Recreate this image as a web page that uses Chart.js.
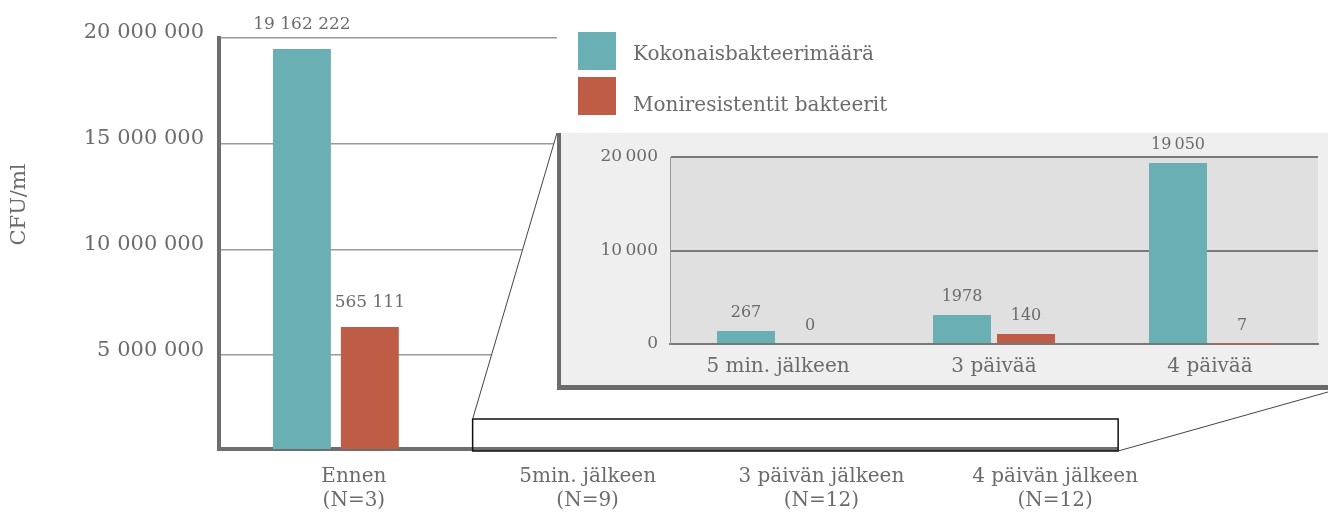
<!DOCTYPE html>
<html>
<head>
<meta charset="utf-8">
<script src="https://cdn.jsdelivr.net/npm/chart.js@4"></script>
<style>
  body { margin: 0; background: #fff; }
  #wrap { position: relative; width: 1328px; height: 517px; overflow: hidden; }
  #main { position: absolute; left: 0; top: 0; }
  #zoomBox {
    position: absolute; left: 557px; top: 133px; width: 767px; height: 252px;
    background: #efefef; border-left: 4px solid #6b6b6b; border-bottom: 5px solid #6b6b6b;
  }
  #inset { display: block; }
</style>
</head>
<body>
<div id="wrap">
  <canvas id="main" width="1328" height="517"></canvas>
  <div id="zoomBox"><canvas id="inset" width="767" height="252"></canvas></div>
</div>
<script>
// main chart
const categories = [['Ennen', '(N=3)'], ['5min. jälkeen', '(N=9)'], ['3 päivän jälkeen', '(N=12)'], ['4 päivän jälkeen', '(N=12)']];
const seriesNames = ['Kokonaisbakteerimäärä', 'Moniresistentit bakteerit'];
const totalValues = [19480000, 267, 1978, 19050];
const resistantValues = [6330000, 0, 140, 7];
const totalLabels = ['19 162 222', '', '', ''];
const resistantLabels = ['565 111', '', '', ''];
const yTicks = [5000000, 10000000, 15000000, 20000000];

// zoomed inset
const insetCategories = ['5 min. jälkeen', '3 päivää', '4 päivää'];
const insetTotal = [1390, 3100, 19360];
const insetResistant = [0, 1070, 7];
const insetTotalLabels = ['267', '1978', '19\u2009050'];
const insetResistantLabels = ['0', '140', '7'];
const insetTicks = [0, 10000, 20000];

const TEAL = '#6aafb3';
const RED = '#bf5c45';
const TEXT = '#6b6b6b';
const AXIS = '#6e6e6e';
const SERIF = "'DejaVu Serif', serif";
const PANEL = { left: 557, top: 133, right: 1328, bottomRight: 392 };

Chart.defaults.font.family = SERIF;
Chart.defaults.color = TEXT;

const fmt = (v, sep) => String(v).replace(/\B(?=(\d{3})+(?!\d))/g, sep);

function drawValueLabels(chart, size, offset) {
    const ctx = chart.ctx;
    ctx.save();
    ctx.font = `${size}px ${SERIF}`;
    ctx.fillStyle = TEXT;
    ctx.textAlign = 'center';
    ctx.textBaseline = 'middle';
    chart.data.datasets.forEach((ds, i) => {
        chart.getDatasetMeta(i).data.forEach((bar, j) => {
            const txt = ds.valueLabels[j];
            if (!txt) return;
            const y = Math.min(bar.y, chart.chartArea.bottom);
            ctx.fillText(txt, bar.x, y - offset);
        });
    });
    ctx.restore();
}

const mainDecor = {
    id: 'mainDecor',
    beforeDatasetsDraw(chart) {
        const { ctx, chartArea, scales: { x } } = chart;
        const rL = x.getPixelForValue(1) - 97, rR = x.getPixelForValue(3) + 81;
        const rT = chartArea.bottom - 30, rB = chartArea.bottom + 2;
        chart.$rect = { rL, rR, rT, rB };
        // white wedge behind the zoom lines hides the grid
        ctx.save();
        ctx.fillStyle = '#fff';
        ctx.beginPath();
        ctx.moveTo(rL, rT);
        ctx.lineTo(PANEL.left, PANEL.top);
        ctx.lineTo(PANEL.left, 0);
        ctx.lineTo(PANEL.right, 0);
        ctx.lineTo(PANEL.right, rB + 4);
        ctx.lineTo(rR, rB + 4);
        ctx.lineTo(rR, rT);
        ctx.closePath();
        ctx.fill();
        ctx.restore();
    },
    afterDatasetsDraw(chart) {
        drawValueLabels(chart, 17, 24);
    },
    afterDraw(chart) {
        const { ctx, chartArea } = chart;
        const { rL, rR, rT, rB } = chart.$rect;
        ctx.save();
        ctx.strokeStyle = '#111';
        ctx.lineWidth = 1.5;
        ctx.strokeRect(rL, rT, rR - rL, rB - rT);
        ctx.strokeStyle = '#444';
        ctx.lineWidth = 1;
        ctx.beginPath();
        ctx.moveTo(rL, rT); ctx.lineTo(PANEL.left, PANEL.top);
        ctx.moveTo(rR, rB); ctx.lineTo(PANEL.right, PANEL.bottomRight);
        ctx.stroke();

        // legend
        ctx.font = `20px ${SERIF}`;
        ctx.textBaseline = 'middle';
        chart.data.datasets.forEach((ds, i) => {
            const top = 32 + i * 45;
            ctx.fillStyle = ds.backgroundColor;
            ctx.fillRect(578, top, 38, 38);
            ctx.fillStyle = TEXT;
            ctx.fillText(ds.label, 633, top + 23 + i * 6);
        });

        // y title
        ctx.translate(20, chartArea.top + (chartArea.bottom - chartArea.top) * 0.405);
        ctx.rotate(-Math.PI / 2);
        ctx.textAlign = 'center';
        ctx.font = `21px ${SERIF}`;
        ctx.fillText('CFU/ml', 0, 0);
        ctx.restore();
    }
};

new Chart(document.getElementById('main'), {
    type: 'bar',
    data: {
        labels: categories,
        datasets: [
            { label: seriesNames[0], data: totalValues, backgroundColor: TEAL, valueLabels: totalLabels },
            { label: seriesNames[1], data: resistantValues, backgroundColor: RED, valueLabels: resistantLabels }
        ]
    },
    options: {
        responsive: false,
        animation: false,
        layout: { padding: { left: 0, top: 38, right: 174, bottom: 0 } },
        datasets: { bar: { barPercentage: 58 / 68, categoryPercentage: 136 / 234 } },
        plugins: { legend: { display: false }, tooltip: { enabled: false } },
        scales: {
            x: {
                grid: { display: false, drawTicks: false },
                border: { color: AXIS, width: 4 },
                ticks: { font: { size: 20 }, color: TEXT, padding: 16, labelOffset: 18, maxRotation: 0, autoSkip: false },
                afterFit: s => { s.height = 68; }
            },
            y: {
                min: 560000,
                max: 20000000,
                afterBuildTicks: s => { s.ticks = yTicks.map(v => ({ value: v })); },
                grid: { color: '#9a9a9a', lineWidth: 1.5, drawTicks: false },
                border: { color: AXIS, width: 4 },
                ticks: { callback: v => fmt(v, ' '), font: { size: 21 }, color: TEXT, padding: 15, labelOffset: -5 },
                afterFit: s => { s.width = 219; }
            }
        }
    },
    plugins: [mainDecor]
});

const insetDecor = {
    id: 'insetDecor',
    beforeDraw(chart) {
        const { ctx, chartArea: a } = chart;
        ctx.save();
        ctx.fillStyle = '#e0e0e0';
        ctx.fillRect(a.left, a.top, a.right - a.left, a.bottom - a.top);
        ctx.restore();
    },
    afterDatasetsDraw(chart) {
        drawValueLabels(chart, 16, 18);
    }
};

new Chart(document.getElementById('inset'), {
    type: 'bar',
    data: {
        labels: insetCategories,
        datasets: [
            { label: seriesNames[0], data: insetTotal, backgroundColor: TEAL, valueLabels: insetTotalLabels },
            { label: seriesNames[1], data: insetResistant, backgroundColor: RED, valueLabels: insetResistantLabels }
        ]
    },
    options: {
        responsive: false,
        animation: false,
        layout: { padding: { left: 0, top: 24, right: 10, bottom: 0 } },
        datasets: { bar: { barPercentage: 58 / 64, categoryPercentage: 128 / 216 } },
        plugins: { legend: { display: false }, tooltip: { enabled: false } },
        scales: {
            x: {
                grid: { display: false, drawTicks: false },
                border: { color: '#777', width: 2 },
                ticks: { font: { size: 20 }, color: TEXT, padding: 11, maxRotation: 0 },
                afterFit: s => { s.height = 41; }
            },
            y: {
                min: 0,
                max: 20000,
                afterBuildTicks: s => { s.ticks = insetTicks.map(v => ({ value: v })); },
                grid: { color: '#7a7a7a', lineWidth: 2, drawTicks: false },
                border: { color: '#999', width: 1 },
                ticks: { callback: v => fmt(v, '\u2009'), font: { size: 17 }, color: TEXT, padding: 12 },
                afterFit: s => { s.width = 109; }
            }
        }
    },
    plugins: [insetDecor]
});
</script>
</body>
</html>
